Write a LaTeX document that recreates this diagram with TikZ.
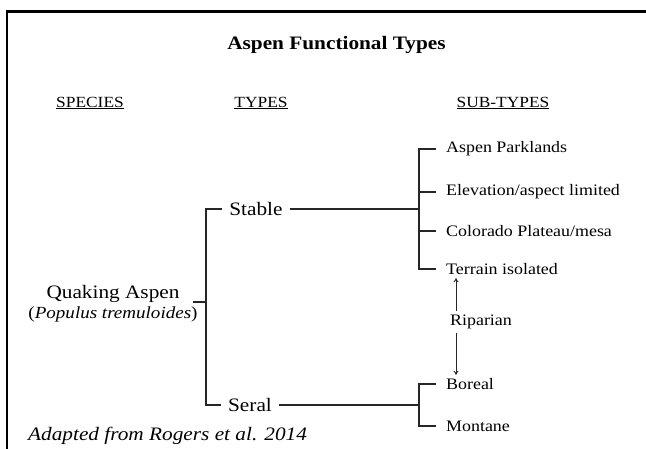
\documentclass[tikz,border=0pt]{standalone}
\usepackage{fontspec}
\setmainfont{Liberation Serif}[FakeStretch=1.12]
\usetikzlibrary{arrows.meta}

\tikzset{
  hdr/.style={font=\fontsize{15.5}{18}\selectfont},
  typ/.style={font=\fontsize{19}{22}\selectfont, inner xsep=7pt},
  sub/.style={anchor=west, font=\fontsize{16}{18}\selectfont, inner xsep=10pt},
  link/.style={line width=1.2pt, draw=black!85},
  tip/.style={link, line width=0.9pt, -{To[length=4pt,width=5pt]}},
}

\begin{document}
\begin{tikzpicture}[x=1pt,y=1pt]
\useasboundingbox (0,0) rectangle (646,-449);
\draw [line width=2.6pt] (7,-449) -- (7,-11.5) -- (646,-11.5);
\node (title) at (336.5,-45) {\fontsize{19}{22}\selectfont\bfseries Aspen Functional Types};
\node [hdr] (hspecies) at (90,-103) {\underline{SPECIES}};
\node [hdr] (htypes) at (261,-103) {\underline{TYPES}};
\node [hdr] (hsubtypes) at (503,-103) {\underline{SUB-TYPES}};
\node [typ, align=center, inner xsep=1pt] (aspen) at (113,-304) {Quaking Aspen\\[-2pt]{\fontsize{17}{20}\selectfont(\textit{Populus tremuloides})}};
\node [typ] (stable) at (256,-209) {Stable};
\node [typ] (seral) at (250,-405) {Seral};
\node [sub] (parkland) at (436,-149) {Aspen Parklands};
\node [sub] (elevation) at (436,-192) {Elevation/aspect limited};
\node [sub] (plateau) at (436,-231) {Colorado Plateau/mesa};
\node [sub] (terrain) at (436,-269) {Terrain isolated};
\node [font=\fontsize{16}{18}\selectfont] (riparian) at (481,-322) {Riparian};
\node [sub] (boreal) at (436,-384) {Boreal};
\node [sub] (montane) at (436,-426) {Montane};
\node [anchor=west, inner xsep=0pt, font=\fontsize{19}{22}\selectfont\itshape] (credit) at (28,-436) {Adapted from Rogers et al. 2014};
\coordinate (fork1) at (206,-302);
\coordinate (fork2) at (419,-209);
\coordinate (fork3) at (419,-405);
\coordinate (arx) at (456,0);
\draw [link] ([xshift=-6pt]aspen.east |- fork1) -- (fork1);
\draw [link] (stable.west) -| (fork1) |- (seral.west);
\draw [link] (stable.east) -- (stable.east -| fork2);
\draw [link] (seral.east) -- (seral.east -| fork3);
\draw [link] (parkland.west) -| (fork2) |- (terrain.west);
\draw [link] (elevation.west) -- (elevation.west -| fork2);
\draw [link] (plateau.west) -- (plateau.west -| fork2);
\draw [link] (boreal.west) -| (fork3) |- (montane.west);
\draw [tip] (riparian.north -| arx) -- (terrain.south -| arx);
\draw [tip] (riparian.south -| arx) -- (boreal.north -| arx);
\end{tikzpicture}
\end{document}
